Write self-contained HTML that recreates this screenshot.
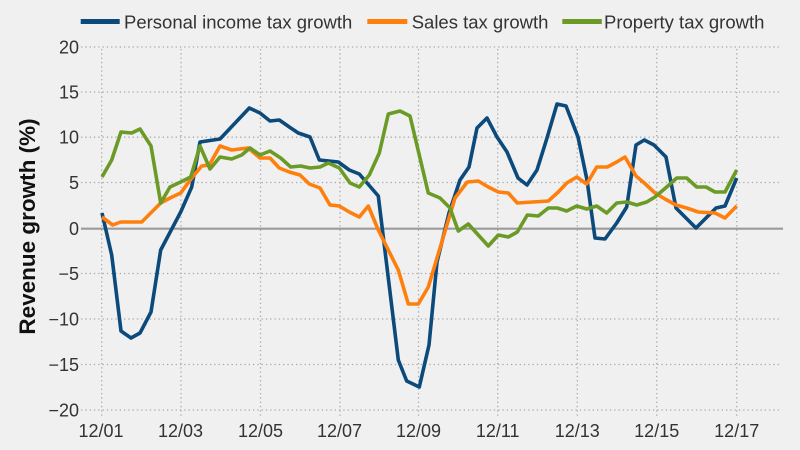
<!DOCTYPE html>
<html><head><meta charset="utf-8"><style>
html,body{margin:0;padding:0;background:#f0f0f0;}
svg{display:block;}
text{font-family:"Liberation Sans",sans-serif;}
</style></head><body>
<svg width="800" height="450" viewBox="0 0 800 450" xmlns="http://www.w3.org/2000/svg">
<rect width="800" height="450" fill="#f0f0f0"/>
<g stroke="#a8a8a8" stroke-width="1.3" stroke-dasharray="1.3,3" fill="none">
<line x1="81" y1="47" x2="782" y2="47"/>
<line x1="81" y1="92" x2="782" y2="92"/>
<line x1="81" y1="137.2" x2="782" y2="137.2"/>
<line x1="81" y1="182.5" x2="782" y2="182.5"/>
<line x1="81" y1="273.5" x2="782" y2="273.5"/>
<line x1="81" y1="319" x2="782" y2="319"/>
<line x1="81" y1="364.5" x2="782" y2="364.5"/>
<line x1="81" y1="410" x2="782" y2="410"/>
<line x1="101.7" y1="49" x2="101.7" y2="417"/>
<line x1="181" y1="49" x2="181" y2="417"/>
<line x1="260.5" y1="49" x2="260.5" y2="417"/>
<line x1="340" y1="49" x2="340" y2="417"/>
<line x1="418.5" y1="49" x2="418.5" y2="417"/>
<line x1="497.7" y1="49" x2="497.7" y2="417"/>
<line x1="577.3" y1="49" x2="577.3" y2="417"/>
<line x1="656.7" y1="49" x2="656.7" y2="417"/>
<line x1="736.7" y1="49" x2="736.7" y2="417"/>
</g>
<line x1="81" y1="228.7" x2="783" y2="228.7" stroke="#9a9a9a" stroke-width="2.2"/>
<g font-size="18" fill="#333" text-anchor="end">
<text x="79" y="53.5">20</text>
<text x="79" y="98.5">15</text>
<text x="79" y="143.5">10</text>
<text x="79" y="189">5</text>
<text x="79" y="235">0</text>
<text x="79" y="280">−5</text>
<text x="79" y="325.5">−10</text>
<text x="79" y="371">−15</text>
<text x="79" y="416.5">−20</text>
</g>
<g font-size="18" fill="#333" text-anchor="middle">
<text x="101" y="437">12/01</text>
<text x="180.5" y="437">12/03</text>
<text x="260.5" y="437">12/05</text>
<text x="339.5" y="437">12/07</text>
<text x="418.5" y="437">12/09</text>
<text x="497.7" y="437">12/11</text>
<text x="577.3" y="437">12/13</text>
<text x="656.7" y="437">12/15</text>
<text x="736.7" y="437">12/17</text>
</g>
<text transform="translate(35,226.5) rotate(-90)" text-anchor="middle" font-size="22.5" font-weight="bold" fill="#111">Revenue growth (%)</text>
<g fill="none" stroke-width="3.6" stroke-linejoin="round" stroke-linecap="butt">
<polyline stroke="#0b4a7b" points="102,213 111.7,255 121,331 131,338 140,333 151,312 160.7,250 180.7,212 191.7,187 200,142 220,139 249.3,108 260,113 270,121 279.3,120 289.3,127 298.3,133 310,137 319.3,160 338.3,162 349.3,170 359.3,174 378.3,196 398.3,360 406.7,381 419.3,387 429,345 437,262 449,213 460,180 469,167 477,128 487,118 497,137 507,152 518,178 527,185 537,170 547,138 557,104 566,106 578,137 587,180 595,238 605,239 616.7,223 626.7,207 636,145 644.3,140 654,145 666,157 676,208 696,228 706,218 716,208 725,206 736.7,178"/>
<polyline stroke="#ff7f0e" points="102,217 112.7,225 120.7,222 141.7,222 151.7,212 160.7,203 170,198 180.7,193 191.7,178 201.7,166 209.3,165 220,146 231.7,150 248.3,148 260,158 270,158 279.3,168 289.3,172 300,175 309.3,184 320,188 330,205 339.3,206 349.3,212 359.3,217 368.3,206 378.3,230 388.3,250 398.3,270 408.3,304 418.3,304 428.3,287 443.3,237 455,198 467.3,182 478.3,181 488.3,187 498.3,192 508.3,193 517.3,203 548.3,201 558.3,192 566.7,183 576.7,177 586.7,184 596.7,167 607.3,167 616.7,162 625,157 636,176 644.3,183 655,193 665,199 676,205 686.7,208 698.3,212 715,213 725,218 736.7,206"/>
<polyline stroke="#6b9a27" points="102,177 111.7,160 121,132 131.7,133 140,129 151,146 160.7,203 170,187 180.7,182 190.7,177 200,146 210,169 220,157 231.7,159 241.7,155 250,148 260,155 270,151 280.7,158 290.7,167 300.7,166 310,168 320,167 328.3,163 339.3,168 350,183 359.3,187 369.3,175 379.3,153 388.3,114 400,111 410,116 428.3,193 440,198 450,208 458.3,231 468.3,224 478.3,235 488.3,246 498.3,235 508.3,237 517.3,232 527.3,215 538.3,216 548.3,208 557.3,208 566.7,211 576.7,206 586.7,209 596.7,206 606.7,213 616.7,203 626.7,202 636.7,205 646.7,202 655,197 666.7,187 676.7,178 686.7,178 696.7,187 706,187 715,192 725,192 736.7,170"/>
</g>
<rect x="80.7" y="19" width="39" height="5" fill="#0b4a7b"/>
<rect x="367.3" y="19" width="40" height="5" fill="#ff7f0e"/>
<rect x="562.3" y="19" width="39.5" height="5" fill="#6b9a27"/>
<g font-size="18.5" fill="#333">
<text x="124" y="28.3">Personal income tax growth</text>
<text x="411.7" y="28.3">Sales tax growth</text>
<text x="604" y="28.3">Property tax growth</text>
</g>
</svg>
</body></html>
